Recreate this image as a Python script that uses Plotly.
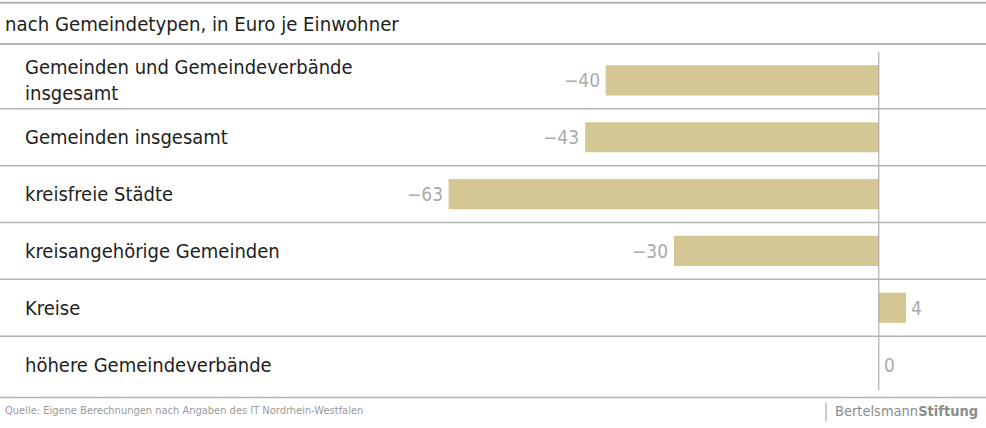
import plotly.graph_objects as go

categories = [
    "Gemeinden und Gemeindeverbände<br>insgesamt",
    "Gemeinden insgesamt",
    "kreisfreie Städte",
    "kreisangehörige Gemeinden",
    "Kreise",
    "höhere Gemeindeverbände",
]
values = [-40, -43, -63, -30, 4, 0]

subtitle = "nach Gemeindetypen, in Euro je Einwohner"
source = "Quelle: Eigene Berechnungen nach Angaben des IT Nordrhein-Westfalen"

W, H = 986, 428
TOP, BOTTOM = 51.5, 34.5
PH = H - TOP - BOTTOM

BAR = "#d5c793"
GRID = "#b4b4b4"
LABEL_GRAY = "#ababab"
TEXT = "#1e1e1e"
FONT = "'DejaVu Sans Condensed', Roboto, sans-serif"


def py(pixel_y):
    # pixel row from top of the page -> paper y
    return (H - BOTTOM - pixel_y) / PH


def px(pixel_x):
    return pixel_x / W


idx = list(range(len(categories)))

fig = go.Figure(go.Bar(
    x=values,
    y=idx,
    orientation="h",
    marker=dict(color=BAR, line_width=0),
    width=0.53,
    hoverinfo="skip",
))

annotations = []
for i, (cat, v) in enumerate(zip(categories, values)):
    annotations.append(dict(
        x=px(23), xref="paper", y=i, yref="y", text=cat,
        xanchor="left", yanchor="middle", align="left", showarrow=False,
        font=dict(family=FONT, size=20, color=TEXT),
    ))
    label = f"−{abs(v)}" if v < 0 else str(v)
    annotations.append(dict(
        x=v, xref="x", y=i, yref="y", text=label, showarrow=False,
        xanchor="right" if v < 0 else "left", yanchor="middle",
        xshift=-4 if v < 0 else 3,
        font=dict(family=FONT, size=19, color=LABEL_GRAY),
    ))

annotations += [
    dict(x=px(3), xref="paper", y=py(23), yref="paper", text=subtitle,
         xanchor="left", yanchor="middle", showarrow=False,
         font=dict(family=FONT, size=20.2, color=TEXT)),
    dict(x=px(3), xref="paper", y=py(411), yref="paper", text=source,
         xanchor="left", yanchor="middle", showarrow=False,
         font=dict(family=FONT, size=11, color="#9a9a9a")),
    dict(x=px(833), xref="paper", y=py(412), yref="paper",
         text="Bertelsmann<b>Stiftung</b>",
         xanchor="left", yanchor="middle", showarrow=False,
         font=dict(family=FONT, size=14.5, color="#8c8c8c")),
]

shapes = [
    # top rule, rule under the subtitle, bottom rule
    dict(type="line", xref="paper", yref="paper", x0=0, x1=1, y0=py(2), y1=py(2),
         line=dict(color=GRID, width=2)),
    dict(type="line", xref="paper", yref="paper", x0=0, x1=1, y0=py(43.5), y1=py(43.5),
         line=dict(color=GRID, width=2)),
    dict(type="line", xref="paper", yref="paper", x0=0, x1=1, y0=py(398), y1=py(398),
         line=dict(color=GRID, width=1.5)),
    # zero line
    dict(type="line", xref="x", yref="y", x0=0, x1=0, y0=-0.5, y1=len(categories) - 0.55,
         line=dict(color="#a0a0a0", width=1)),
    # logo separator
    dict(type="line", xref="paper", yref="paper", x0=px(826), x1=px(826),
         y0=py(403), y1=py(422), line=dict(color="#9a9a9a", width=1)),
]
for k in range(1, len(categories)):
    shapes.append(dict(type="line", xref="paper", yref="y", x0=0, x1=1,
                       y0=k - 0.5, y1=k - 0.5, line=dict(color=GRID, width=1.5)))

fig.update_layout(
    width=W, height=H,
    margin=dict(l=0, r=0, t=TOP, b=BOTTOM),
    paper_bgcolor="white", plot_bgcolor="white",
    showlegend=False,
    xaxis=dict(range=[-128.7, 15.7], visible=False, fixedrange=True),
    yaxis=dict(range=[len(categories) - 0.5, -0.5], visible=False, fixedrange=True),
    annotations=annotations,
    shapes=shapes,
)

# drop the browser's default 8px body margin so the chart sits at the page edge
fig.write_html("out.html", config={"displayModeBar": False},
               post_script="document.body.style.margin='0';")
